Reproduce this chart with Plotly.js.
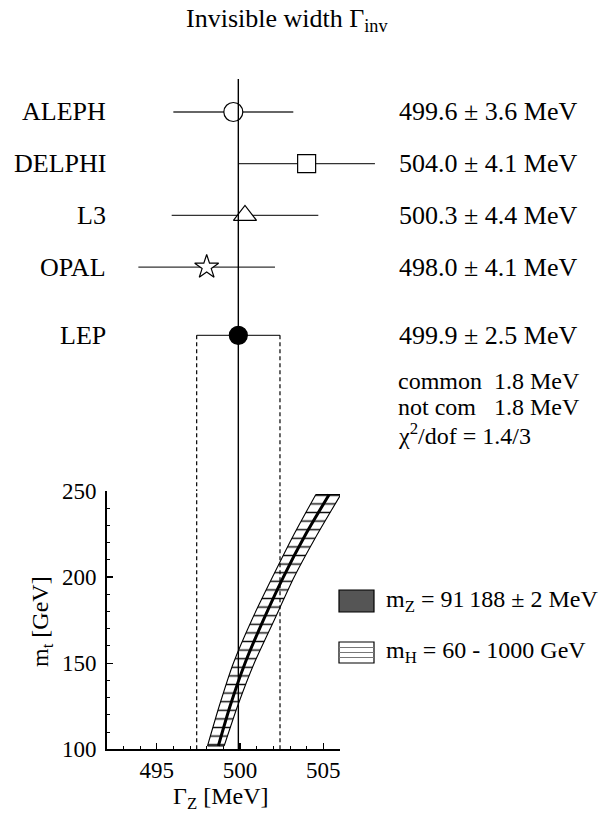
<!DOCTYPE html>
<html>
<head>
<meta charset="utf-8">
<script src="https://cdn.plot.ly/plotly-3.0.1.min.js"></script>
<style>html,body{margin:0;padding:0;background:#fff;}#chart{width:603px;height:819px;}</style>
</head>
<body>
<div id="chart"></div>
<script>
// ---------- data ----------
const experiments = ['ALEPH', 'DELPHI', 'L3', 'OPAL', 'LEP'];
const gammaInv    = [499.6, 504.0, 500.3, 498.0, 499.9];
const gammaErr    = [3.6, 4.1, 4.4, 4.1, 2.5];
const markerSymbols = ['circle', 'square', 'triangle-up', 'star', 'circle'];
const markerFills   = ['white', 'white', 'white', 'white', 'black'];
const commonErr = 1.8;
const notCommonErr = 1.8;
const chi2Text = '1.4/3';

// SM prediction band: m_t [GeV] vs Gamma_Z [MeV]
const bandMt   = [102, 125, 150, 175, 200, 225, 248];
const bandLow  = [498.05, 498.75, 499.6, 500.7, 501.95, 503.25, 504.55];
const bandHigh = [499.05, 499.85, 500.85, 502.05, 503.25, 504.65, 506.05];
const bandMid  = [498.7, 499.4, 500.3, 501.4, 502.6, 503.95, 505.35];

const xTickVals = [495, 500, 505];
const yTickVals = [100, 150, 200, 250];

// ---------- layout helpers ----------
const W = 603, H = 819;
const px = v => v / W;
const py = v => 1 - v / H;
const FONT = 'Liberation Serif';

const lowerY0 = 491, lowerY1 = 749.3;   // pixel rows of lower plot
const upperTop = 79;
const rowPx0 = 112, rowStep = 51.7;
const rowPos = experiments.map((e, i) => i < 4 ? i : 4.32);
const y2Range = [(lowerY0 - rowPx0) / rowStep, -(rowPx0 - upperTop) / rowStep];

const lep = gammaInv[4], lepErr = gammaErr[4];
const lepRow = rowPos[4];

const traces = [];

// upper: error bars + markers
traces.push({
  type: 'scatter', mode: 'markers', xaxis: 'x2', yaxis: 'y2',
  x: gammaInv, y: rowPos,
  error_x: {type: 'data', array: gammaErr, visible: true, color: '#333', thickness: 1.3, width: 0},
  marker: {symbol: markerSymbols, color: markerFills, size: [19, 18, 20, 18, 18], opacity: 1,
           line: {color: 'black', width: 1.2}},
  showlegend: false, hoverinfo: 'skip', cliponaxis: false
});
// upper: dashed LEP band edges
[lep - lepErr, lep + lepErr].forEach(xv => {
  traces.push({type: 'scatter', mode: 'lines', xaxis: 'x2', yaxis: 'y2',
    x: [xv, xv], y: [lepRow, y2Range[0]],
    line: {color: 'black', width: 1.2, dash: '4px,3px'}, showlegend: false, hoverinfo: 'skip'});
});
// upper: central vertical line
traces.push({type: 'scatter', mode: 'lines', xaxis: 'x2', yaxis: 'y2',
  x: [lep, lep], y: [y2Range[1], y2Range[0]],
  line: {color: 'black', width: 1.4}, showlegend: false, hoverinfo: 'skip'});

// lower: band (two smooth edges, filled between with horizontal hatching)
const edgeLine = {color: 'black', width: 1.1, shape: 'spline', smoothing: 0.6};
traces.push({type: 'scatter', mode: 'lines', xaxis: 'x', yaxis: 'y',
  x: bandLow, y: bandMt, line: edgeLine, showlegend: false, hoverinfo: 'skip'});
traces.push({type: 'scatter', mode: 'lines', xaxis: 'x', yaxis: 'y',
  x: bandHigh, y: bandMt, line: edgeLine,
  fill: 'tonextx', fillcolor: 'white',
  fillpattern: {shape: '-', fgcolor: '#111', bgcolor: 'white', size: 8.6, solidity: 0.17},
  showlegend: false, hoverinfo: 'skip'});
[0, bandMt.length - 1].forEach(k => {
  traces.push({type: 'scatter', mode: 'lines', xaxis: 'x', yaxis: 'y',
    x: [bandLow[k], bandHigh[k]], y: [bandMt[k], bandMt[k]],
    line: {color: 'black', width: 1.1}, showlegend: false, hoverinfo: 'skip'});
});
traces.push({type: 'scatter', mode: 'lines', xaxis: 'x', yaxis: 'y',
  x: bandMid, y: bandMt, line: {color: 'black', width: 3, shape: 'spline', smoothing: 0.6},
  showlegend: false, hoverinfo: 'skip'});
[lep - lepErr, lep + lepErr].forEach(xv => {
  traces.push({type: 'scatter', mode: 'lines', xaxis: 'x', yaxis: 'y',
    x: [xv, xv], y: [100, 250],
    line: {color: 'black', width: 1.2, dash: '4px,3px'}, showlegend: false, hoverinfo: 'skip'});
});
traces.push({type: 'scatter', mode: 'lines', xaxis: 'x', yaxis: 'y',
  x: [lep, lep], y: [100, 250],
  line: {color: 'black', width: 1.4}, showlegend: false, hoverinfo: 'skip'});

// ---------- annotations ----------
const ann = [];
const f = s => ({family: FONT, size: s, color: 'black'});
ann.push({xref: 'paper', yref: 'paper', x: px(287), y: py(20), xanchor: 'center', yanchor: 'middle',
  text: 'Invisible width Γ<sub>inv</sub>', showarrow: false, font: f(26)});
experiments.forEach((name, i) => {
  ann.push({xref: 'paper', yref: 'y2', x: px(108), y: rowPos[i], xanchor: 'right', yanchor: 'middle',
    text: name, showarrow: false, font: f(26)});
  ann.push({xref: 'paper', yref: 'y2', x: px(397), y: rowPos[i], xanchor: 'left', yanchor: 'middle',
    text: gammaInv[i].toFixed(1) + ' ± ' + gammaErr[i].toFixed(1) + ' MeV', showarrow: false, font: f(26)});
});
ann.push({xref: 'paper', yref: 'paper', x: px(396), y: py(381), xanchor: 'left', yanchor: 'middle',
  text: 'common  ' + commonErr.toFixed(1) + ' MeV', showarrow: false, font: f(24)});
ann.push({xref: 'paper', yref: 'paper', x: px(396), y: py(407), xanchor: 'left', yanchor: 'middle',
  text: 'not com   ' + notCommonErr.toFixed(1) + ' MeV', showarrow: false, font: f(24)});
ann.push({xref: 'paper', yref: 'paper', x: px(396), y: py(434), xanchor: 'left', yanchor: 'middle',
  text: 'χ<sup>2</sup>/dof = ' + chi2Text, showarrow: false, font: f(24)});
// legend text
ann.push({xref: 'paper', yref: 'paper', x: px(384), y: py(601), xanchor: 'left', yanchor: 'middle',
  text: 'm<sub>Z</sub> = 91\u2009188 ± 2 MeV', showarrow: false, font: f(24)});
ann.push({xref: 'paper', yref: 'paper', x: px(384), y: py(652), xanchor: 'left', yanchor: 'middle',
  text: 'm<sub>H</sub> = 60 - 1000 GeV', showarrow: false, font: f(24)});
// axis titles
ann.push({xref: 'paper', yref: 'paper', x: px(220), y: py(798), xanchor: 'center', yanchor: 'middle',
  text: 'Γ<sub>Z</sub> [MeV]', showarrow: false, font: f(24)});
ann.push({xref: 'paper', yref: 'paper', x: px(42), y: py(622), xanchor: 'center', yanchor: 'middle',
  text: 'm<sub>t</sub> [GeV]', textangle: -90, showarrow: false, font: f(24)});

// legend swatches
const shapes = [
  {type: 'rect', xref: 'paper', yref: 'paper', x0: px(339), x1: px(374), y0: py(612), y1: py(590),
   fillcolor: '#555', line: {color: 'black', width: 1.2}},
  {type: 'rect', xref: 'paper', yref: 'paper', x0: px(339), x1: px(374), y0: py(663), y1: py(642),
   fillcolor: 'white', line: {color: 'black', width: 1.2}}
];
[647.5, 652.5, 657.5].forEach(yy => shapes.push({type: 'line', xref: 'paper', yref: 'paper',
  x0: px(339), x1: px(374), y0: py(yy), y1: py(yy), line: {color: '#777', width: 1.2}}));

const layout = {
  width: W, height: H,
  margin: {l: 0, r: 0, t: 0, b: 0, pad: 0},
  paper_bgcolor: 'white', plot_bgcolor: 'rgba(0,0,0,0)',
  font: {family: FONT, color: 'black', size: 23},
  showlegend: false,
  xaxis: {
    domain: [px(106.7), px(340)], range: [492, 506], anchor: 'y',
    tickvals: xTickVals, ticks: 'inside', ticklen: 6, tickwidth: 1.3, tickcolor: 'black',
    minor: {dtick: 1, tick0: 0, ticks: 'inside', ticklen: 3.5, tickwidth: 1, tickcolor: 'black', showgrid: false},
    showline: true, linecolor: 'black', linewidth: 1.5, showgrid: false, zeroline: false,
    tickfont: f(23), ticklabelstandoff: 0
  },
  yaxis: {
    domain: [py(lowerY1), py(lowerY0)], range: [100, 250], anchor: 'x',
    tickvals: yTickVals, ticks: 'inside', ticklen: 6, tickwidth: 1.3, tickcolor: 'black',
    minor: {dtick: 10, tick0: 0, ticks: 'inside', ticklen: 3.5, tickwidth: 1, tickcolor: 'black', showgrid: false},
    showline: true, linecolor: 'black', linewidth: 1.5, showgrid: false, zeroline: false,
    tickfont: f(23), ticklabelstandoff: 4
  },
  xaxis2: {domain: [px(106.7), px(406.6)], range: [492, 510], anchor: 'y2', visible: false, showgrid: false, zeroline: false},
  yaxis2: {domain: [py(lowerY0), py(upperTop)], range: y2Range, anchor: 'x2', visible: false, showgrid: false, zeroline: false},
  annotations: ann,
  shapes: shapes
};

Plotly.newPlot('chart', traces, layout, {displayModeBar: false, staticPlot: true});
</script>
</body>
</html>
